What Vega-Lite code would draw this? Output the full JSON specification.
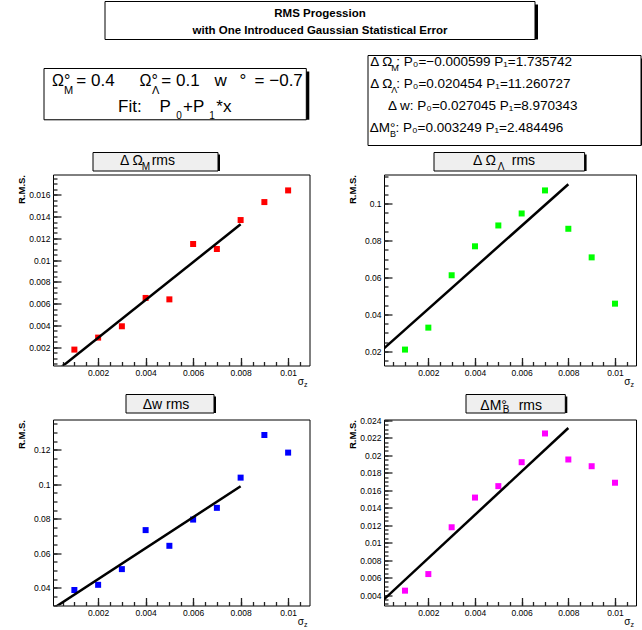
{
  "$schema": "https://vega.github.io/schema/vega-lite/v6.json",
  "padding": {"left": 10, "top": 0.5, "right": 0, "bottom": 0},
  "background": "white",
  "datasets": {
    "om": [{"s":0.001,"v":0.00179},{"s":0.002,"v":0.00289},{"s":0.003,"v":0.00393},{"s":0.004,"v":0.00653},{"s":0.005,"v":0.0064},{"s":0.006,"v":0.01148},{"s":0.007,"v":0.01102},{"s":0.008,"v":0.01368},{"s":0.009,"v":0.01533},{"s":0.01,"v":0.0164}],
    "ol": [{"s":0.001,"v":0.0209},{"s":0.002,"v":0.0328},{"s":0.003,"v":0.0612},{"s":0.004,"v":0.0769},{"s":0.005,"v":0.0882},{"s":0.006,"v":0.0947},{"s":0.007,"v":0.1072},{"s":0.008,"v":0.0864},{"s":0.009,"v":0.0709},{"s":0.01,"v":0.0458}],
    "dw": [{"s":0.001,"v":0.0387},{"s":0.002,"v":0.0417},{"s":0.003,"v":0.0508},{"s":0.004,"v":0.0734},{"s":0.005,"v":0.0643},{"s":0.006,"v":0.0795},{"s":0.007,"v":0.0863},{"s":0.008,"v":0.1038},{"s":0.009,"v":0.1285},{"s":0.01,"v":0.1183}],
    "mb": [{"s":0.001,"v":0.0045},{"s":0.002,"v":0.0064},{"s":0.003,"v":0.01176},{"s":0.004,"v":0.01516},{"s":0.005,"v":0.01647},{"s":0.006,"v":0.01921},{"s":0.007,"v":0.0225},{"s":0.008,"v":0.01952},{"s":0.009,"v":0.01875},{"s":0.01,"v":0.01686}],
    "fom": [{"s":0,"v":-0.000599},{"s":0.008,"v":0.013287}],
    "fol": [{"s":0,"v":0.020454},{"s":0.008,"v":0.11054}],
    "fdw": [{"s":0,"v":0.027045},{"s":0.008,"v":0.098808}],
    "fmb": [{"s":0,"v":0.003249},{"s":0.008,"v":0.023125}]
  },
  "config": {
    "view": {"stroke": null},
    "font": "Liberation Sans",
    "axis": {"labelFont": "Liberation Sans", "titleFont": "Liberation Sans", "labelColor": "black", "titleColor": "black", "ticks": true, "tickColor": "#222222", "tickWidth": 1.3, "tickOpacity": 1, "domain": false, "grid": false, "labelFontSize": 8.5, "labelOverlap": false, "labelFlush": false, "labelBound": false, "zindex": 1},
    "text": {"font": "Liberation Sans", "color": "black"}
  },
  "spacing": 0,
  "vconcat": [
    {"hconcat": [
      {"width": 95, "height": 52.5, "data": {"values": []}, "mark": "point"},
      {"width": 430, "height": 38, "data": {"values": [{}]}, "layer": [
        {"mark": {"type": "rect", "fill": "black", "xOffset": 3, "yOffset": 3}},
        {"mark": {"type": "rect", "fill": "white", "stroke": "black", "strokeWidth": 1}},
        {"mark": {"type": "text", "text": ["RMS Progession", "with One Introduced Gaussian Statistical Error"], "fontSize": 11.5, "fontWeight": "bold", "align": "center", "baseline": "alphabetic", "lineHeight": 17, "dy": -3.7}}
      ]}
    ], "spacing": 0, "bounds": "flush"},

    {"hconcat": [
      {"width": 32.2, "height": 96, "data": {"values": []}, "mark": "point"},
      {"vconcat": [
        {"width": 1, "height": 11.7, "data": {"values": []}, "mark": "point"},
        {"width": 262.3, "height": 51.3, "data": {"values": [{}]}, "layer": [
          {"mark": {"type": "rect", "fill": "black", "xOffset": 3, "yOffset": 3}},
          {"mark": {"type": "rect", "fill": "white", "stroke": "black", "strokeWidth": 1}},
          {"mark": {"type": "text", "text": "Ω°", "fontSize": 16, "align": "left", "baseline": "alphabetic", "dx": -123.15, "dy": -8.05}},
          {"mark": {"type": "text", "text": "M", "fontSize": 11, "align": "left", "baseline": "alphabetic", "dx": -111.15, "dy": 0}},
          {"mark": {"type": "text", "text": "= 0.4", "fontSize": 17, "align": "left", "baseline": "alphabetic", "dx": -98.85, "dy": -8.05}},
          {"mark": {"type": "text", "text": "Ω°", "fontSize": 16, "align": "left", "baseline": "alphabetic", "dx": -35.55, "dy": -8.05}},
          {"mark": {"type": "text", "text": "Λ", "fontSize": 11, "align": "left", "baseline": "alphabetic", "dx": -23.15, "dy": 0}},
          {"mark": {"type": "text", "text": "= 0.1", "fontSize": 17, "align": "left", "baseline": "alphabetic", "dx": -13.85, "dy": -8.05}},
          {"mark": {"type": "text", "text": "w", "fontSize": 17, "align": "left", "baseline": "alphabetic", "dx": 39.45, "dy": -8.05}},
          {"mark": {"type": "text", "text": "°", "fontSize": 17, "align": "left", "baseline": "alphabetic", "dx": 64.45, "dy": -8.05}},
          {"mark": {"type": "text", "text": "= −0.7", "fontSize": 17, "align": "left", "baseline": "alphabetic", "dx": 79.45, "dy": -8.05}},
          {"mark": {"type": "text", "text": "Fit:", "fontSize": 17, "align": "left", "baseline": "alphabetic", "dx": -57.15, "dy": 17.65}},
          {"mark": {"type": "text", "text": "P", "fontSize": 17, "align": "left", "baseline": "alphabetic", "dx": -15.55, "dy": 17.65}},
          {"mark": {"type": "text", "text": "0", "fontSize": 10, "align": "left", "baseline": "alphabetic", "dx": 1.15, "dy": 25.15}},
          {"mark": {"type": "text", "text": "+P", "fontSize": 17, "align": "left", "baseline": "alphabetic", "dx": 7.85, "dy": 17.65}},
          {"mark": {"type": "text", "text": "1", "fontSize": 10, "align": "left", "baseline": "alphabetic", "dx": 34.15, "dy": 25.15}},
          {"mark": {"type": "text", "text": "*x", "fontSize": 17, "align": "left", "baseline": "alphabetic", "dx": 41.15, "dy": 17.65}}
        ]}
      ], "spacing": 0},
      {"width": 56.5, "height": 1, "data": {"values": []}, "mark": "point"},
      {"width": 273, "height": 90, "data": {"values": [{}]}, "layer": [
        {"mark": {"type": "rect", "fill": "black", "xOffset": 3, "yOffset": 3}},
        {"mark": {"type": "rect", "fill": "white", "stroke": "black", "strokeWidth": 1}},
        {"mark": {"type": "text", "text": "Δ Ω", "fontSize": 13.5, "align": "left", "baseline": "alphabetic", "dx": -134.2, "dy": -34.3}},
        {"mark": {"type": "text", "text": "M", "fontSize": 9, "align": "left", "baseline": "alphabetic", "dx": -113.2, "dy": -30}},
        {"mark": {"type": "text", "text": ": P₀=−0.000599  P₁=1.735742", "fontSize": 13.5, "align": "left", "baseline": "alphabetic", "dx": -108.2, "dy": -34.3}},
        {"mark": {"type": "text", "text": "Δ Ω", "fontSize": 13.5, "align": "left", "baseline": "alphabetic", "dx": -134.2, "dy": -12.3}},
        {"mark": {"type": "text", "text": "Λ", "fontSize": 9, "align": "left", "baseline": "alphabetic", "dx": -113.2, "dy": -8}},
        {"mark": {"type": "text", "text": ": P₀=0.020454  P₁=11.260727", "fontSize": 13.5, "align": "left", "baseline": "alphabetic", "dx": -108.2, "dy": -12.3}},
        {"mark": {"type": "text", "text": "Δ w: P₀=0.027045  P₁=8.970343", "fontSize": 13.5, "align": "left", "baseline": "alphabetic", "dx": -116.5, "dy": 9.3}},
        {"mark": {"type": "text", "text": "ΔM°", "fontSize": 13.5, "align": "left", "baseline": "alphabetic", "dx": -134.8, "dy": 31.7}},
        {"mark": {"type": "text", "text": "B", "fontSize": 9, "align": "left", "baseline": "alphabetic", "dx": -114.5, "dy": 36}},
        {"mark": {"type": "text", "text": ": P₀=0.003249  P₁=2.484496", "fontSize": 13.5, "align": "left", "baseline": "alphabetic", "dx": -109, "dy": 31.7}}
      ]}
    ], "spacing": 0},

    {"hconcat": [
      {"width": 83, "height": 20.5, "data": {"values": []}, "mark": "point"},
      {"width": 125, "height": 18.5, "data": {"values": [{}]}, "layer": [
        {"mark": {"type": "rect", "fill": "black", "xOffset": 2, "yOffset": 2}},
        {"mark": {"type": "rect", "fill": "#efefef", "stroke": "black", "strokeWidth": 1}},
        {"mark": {"type": "text", "text": "Δ Ω", "fontSize": 14, "align": "left", "baseline": "alphabetic", "dx": -35.5, "dy": 2.75}},
        {"mark": {"type": "text", "text": "M", "fontSize": 10, "align": "left", "baseline": "alphabetic", "dx": -13.8, "dy": 8.05}},
        {"mark": {"type": "text", "text": "rms", "fontSize": 14, "align": "left", "baseline": "alphabetic", "dx": -3.8, "dy": 2.75}}
      ]},
      {"width": 215.7, "height": 1, "data": {"values": []}, "mark": "point"},
      {"width": 150.6, "height": 18.5, "data": {"values": [{}]}, "layer": [
        {"mark": {"type": "rect", "fill": "black", "xOffset": 2, "yOffset": 2}},
        {"mark": {"type": "rect", "fill": "#efefef", "stroke": "black", "strokeWidth": 1}},
        {"mark": {"type": "text", "text": "Δ Ω", "fontSize": 14, "align": "left", "baseline": "alphabetic", "dx": -36.3, "dy": 2.75}},
        {"mark": {"type": "text", "text": "Λ", "fontSize": 10, "align": "left", "baseline": "alphabetic", "dx": -11.5, "dy": 8.05}},
        {"mark": {"type": "text", "text": "rms", "fontSize": 14, "align": "left", "baseline": "alphabetic", "dx": 2.5, "dy": 2.75}}
      ]}
    ], "spacing": 0, "bounds": "flush"},

    {"hconcat": [
      {"width": 43, "height": 219, "data": {"values": []}, "mark": "point"},
      {"width": 256.5, "height": 191, "view": {"stroke": "black", "strokeWidth": 1},
       "resolve": {"axis": {"x": "independent", "y": "independent"}},
       "layer": [
        {"data": {"name": "om"}, "mark": {"type": "point", "shape": "square", "filled": true, "size": 36, "color": "#ff0000", "opacity": 1},
         "encoding": {
          "x": {"field": "s", "type": "quantitative", "scale": {"domain": [0.0001, 0.0109], "nice": false, "zero": false},
                "axis": {"orient": "bottom", "values": [0.002,0.004,0.006,0.008,0.01], "format": ".3~f", "tickSize": 8, "offset": -8, "labelPadding": 3, "title": "σ", "titleFontSize": 10, "titleFontWeight": "normal", "titleAlign": "right", "titleBaseline": "alphabetic", "titleX": 250.5, "titleY": 27}},
          "y": {"field": "v", "type": "quantitative", "scale": {"domain": [0.00033, 0.01786], "nice": false, "zero": false},
                "axis": {"orient": "left", "values": [0.002,0.004,0.006,0.008,0.01,0.012,0.014,0.016], "format": ".3~f", "tickSize": 8, "offset": -8, "labelPadding": 3, "title": "R.M.S.", "titleFontSize": 9.5, "titleFontWeight": "bold", "titleAngle": 270, "titleAlign": "right", "titleBaseline": "middle", "titleX": -40, "titleY": 0}}
         }},
        {"data": {"name": "fom"}, "mark": {"type": "line", "color": "black", "strokeWidth": 2.5, "clip": true},
         "encoding": {
          "x": {"field": "s", "type": "quantitative", "scale": {"domain": [0.0001, 0.0109], "nice": false, "zero": false},
                "axis": {"orient": "bottom", "values": [0.0005,0.001,0.0015,0.002,0.0025,0.003,0.0035,0.004,0.0045,0.005,0.0055,0.006,0.0065,0.007,0.0075,0.008,0.0085,0.009,0.0095,0.01,0.0105], "tickSize": 4, "offset": -4, "labels": false, "title": "z", "titleFontSize": 7, "titleFontWeight": "normal", "titleAlign": "left", "titleBaseline": "alphabetic", "titleX": 250.5, "titleY": 25}},
          "y": {"field": "v", "type": "quantitative", "scale": {"domain": [0.00033, 0.01786], "nice": false, "zero": false},
                "axis": {"orient": "left", "values": [0.0005,0.001,0.0015,0.002,0.0025,0.003,0.0035,0.004,0.0045,0.005,0.0055,0.006,0.0065,0.007,0.0075,0.008,0.0085,0.009,0.0095,0.01,0.0105,0.011,0.0115,0.012,0.0125,0.013,0.0135,0.014,0.0145,0.015,0.0155,0.016,0.0165,0.017,0.0175], "tickSize": 4, "offset": -4, "labels": false, "title": null}}
         }}
       ]},
      {"width": 74, "height": 1, "data": {"values": []}, "mark": "point"},
      {"width": 252, "height": 191, "view": {"stroke": "black", "strokeWidth": 1},
       "resolve": {"axis": {"x": "independent", "y": "independent"}},
       "layer": [
        {"data": {"name": "ol"}, "mark": {"type": "point", "shape": "square", "filled": true, "size": 36, "color": "#00ff00", "opacity": 1},
         "encoding": {
          "x": {"field": "s", "type": "quantitative", "scale": {"domain": [0.0001, 0.0109], "nice": false, "zero": false},
                "axis": {"orient": "bottom", "values": [0.002,0.004,0.006,0.008,0.01], "format": ".3~f", "tickSize": 8, "offset": -8, "labelPadding": 3, "title": "σ", "titleFontSize": 10, "titleFontWeight": "normal", "titleAlign": "right", "titleBaseline": "alphabetic", "titleX": 246, "titleY": 27}},
          "y": {"field": "v", "type": "quantitative", "scale": {"domain": [0.01227, 0.11583], "nice": false, "zero": false},
                "axis": {"orient": "left", "values": [0.02,0.04,0.06,0.08,0.1], "format": ".3~f", "tickSize": 8, "offset": -8, "labelPadding": 3, "title": "R.M.S.", "titleFontSize": 9.5, "titleFontWeight": "bold", "titleAngle": 270, "titleAlign": "right", "titleBaseline": "middle", "titleX": -40, "titleY": 0}}
         }},
        {"data": {"name": "fol"}, "mark": {"type": "line", "color": "black", "strokeWidth": 2.5, "clip": true},
         "encoding": {
          "x": {"field": "s", "type": "quantitative", "scale": {"domain": [0.0001, 0.0109], "nice": false, "zero": false},
                "axis": {"orient": "bottom", "values": [0.0005,0.001,0.0015,0.002,0.0025,0.003,0.0035,0.004,0.0045,0.005,0.0055,0.006,0.0065,0.007,0.0075,0.008,0.0085,0.009,0.0095,0.01,0.0105], "tickSize": 4, "offset": -4, "labels": false, "title": "z", "titleFontSize": 7, "titleFontWeight": "normal", "titleAlign": "left", "titleBaseline": "alphabetic", "titleX": 246, "titleY": 25}},
          "y": {"field": "v", "type": "quantitative", "scale": {"domain": [0.01227, 0.11583], "nice": false, "zero": false},
                "axis": {"orient": "left", "values": [0.015,0.02,0.025,0.03,0.035,0.04,0.045,0.05,0.055,0.06,0.065,0.07,0.075,0.08,0.085,0.09,0.095,0.1,0.105,0.11,0.115], "tickSize": 4, "offset": -4, "labels": false, "title": null}}
         }}
       ]}
    ], "spacing": 0, "bounds": "flush"},

    {"hconcat": [
      {"width": 116, "height": 20.5, "data": {"values": []}, "mark": "point"},
      {"width": 88, "height": 18.5, "data": {"values": [{}]}, "layer": [
        {"mark": {"type": "rect", "fill": "black", "xOffset": 2, "yOffset": 2}},
        {"mark": {"type": "rect", "fill": "#efefef", "stroke": "black", "strokeWidth": 1}},
        {"mark": {"type": "text", "text": "Δw rms", "fontSize": 14, "align": "center", "baseline": "alphabetic", "dx": -4, "dy": 5.45}}
      ]},
      {"width": 251.7, "height": 1, "data": {"values": []}, "mark": "point"},
      {"width": 99.3, "height": 18.5, "data": {"values": [{}]}, "layer": [
        {"mark": {"type": "rect", "fill": "black", "xOffset": 2, "yOffset": 2}},
        {"mark": {"type": "rect", "fill": "#efefef", "stroke": "black", "strokeWidth": 1}},
        {"mark": {"type": "text", "text": "ΔM°", "fontSize": 14, "align": "left", "baseline": "alphabetic", "dx": -35.35, "dy": 6.45}},
        {"mark": {"type": "text", "text": "B", "fontSize": 10, "align": "left", "baseline": "alphabetic", "dx": -13, "dy": 9}},
        {"mark": {"type": "text", "text": "rms", "fontSize": 14, "align": "left", "baseline": "alphabetic", "dx": 3, "dy": 6.45}}
      ]}
    ], "spacing": 0, "bounds": "flush"},

    {"hconcat": [
      {"width": 43, "height": 190, "data": {"values": []}, "mark": "point"},
      {"width": 256.5, "height": 186, "view": {"stroke": "black", "strokeWidth": 1},
       "resolve": {"axis": {"x": "independent", "y": "independent"}},
       "layer": [
        {"data": {"name": "dw"}, "mark": {"type": "point", "shape": "square", "filled": true, "size": 36, "color": "#0000ff", "opacity": 1},
         "encoding": {
          "x": {"field": "s", "type": "quantitative", "scale": {"domain": [0.0001, 0.0109], "nice": false, "zero": false},
                "axis": {"orient": "bottom", "values": [0.002,0.004,0.006,0.008,0.01], "format": ".3~f", "tickSize": 8, "offset": -8, "labelPadding": 3, "title": "σ", "titleFontSize": 10, "titleFontWeight": "normal", "titleAlign": "right", "titleBaseline": "alphabetic", "titleX": 250.5, "titleY": 27}},
          "y": {"field": "v", "type": "quantitative", "scale": {"domain": [0.02972, 0.13748], "nice": false, "zero": false},
                "axis": {"orient": "left", "values": [0.04,0.06,0.08,0.1,0.12], "format": ".3~f", "tickSize": 8, "offset": -8, "labelPadding": 3, "title": "R.M.S.", "titleFontSize": 9.5, "titleFontWeight": "bold", "titleAngle": 270, "titleAlign": "right", "titleBaseline": "middle", "titleX": -40, "titleY": 0}}
         }},
        {"data": {"name": "fdw"}, "mark": {"type": "line", "color": "black", "strokeWidth": 2.5, "clip": true},
         "encoding": {
          "x": {"field": "s", "type": "quantitative", "scale": {"domain": [0.0001, 0.0109], "nice": false, "zero": false},
                "axis": {"orient": "bottom", "values": [0.0005,0.001,0.0015,0.002,0.0025,0.003,0.0035,0.004,0.0045,0.005,0.0055,0.006,0.0065,0.007,0.0075,0.008,0.0085,0.009,0.0095,0.01,0.0105], "tickSize": 4, "offset": -4, "labels": false, "title": "z", "titleFontSize": 7, "titleFontWeight": "normal", "titleAlign": "left", "titleBaseline": "alphabetic", "titleX": 250.5, "titleY": 25}},
          "y": {"field": "v", "type": "quantitative", "scale": {"domain": [0.02972, 0.13748], "nice": false, "zero": false},
                "axis": {"orient": "left", "values": [0.03,0.035,0.04,0.045,0.05,0.055,0.06,0.065,0.07,0.075,0.08,0.085,0.09,0.095,0.1,0.105,0.11,0.115,0.12,0.125,0.13,0.135], "tickSize": 4, "offset": -4, "labels": false, "title": null}}
         }}
       ]},
      {"width": 74, "height": 1, "data": {"values": []}, "mark": "point"},
      {"width": 252, "height": 186, "view": {"stroke": "black", "strokeWidth": 1},
       "resolve": {"axis": {"x": "independent", "y": "independent"}},
       "layer": [
        {"data": {"name": "mb"}, "mark": {"type": "point", "shape": "square", "filled": true, "size": 36, "color": "#ff00ff", "opacity": 1},
         "encoding": {
          "x": {"field": "s", "type": "quantitative", "scale": {"domain": [0.0001, 0.0109], "nice": false, "zero": false},
                "axis": {"orient": "bottom", "values": [0.002,0.004,0.006,0.008,0.01], "format": ".3~f", "tickSize": 8, "offset": -8, "labelPadding": 3, "title": "σ", "titleFontSize": 10, "titleFontWeight": "normal", "titleAlign": "right", "titleBaseline": "alphabetic", "titleX": 246, "titleY": 27}},
          "y": {"field": "v", "type": "quantitative", "scale": {"domain": [0.0028, 0.0241], "nice": false, "zero": false},
                "axis": {"orient": "left", "values": [0.004,0.006,0.008,0.01,0.012,0.014,0.016,0.018,0.02,0.022,0.024], "format": ".3~f", "tickSize": 8, "offset": -8, "labelPadding": 3, "title": "R.M.S.", "titleFontSize": 9.5, "titleFontWeight": "bold", "titleAngle": 270, "titleAlign": "right", "titleBaseline": "middle", "titleX": -40, "titleY": 0}}
         }},
        {"data": {"name": "fmb"}, "mark": {"type": "line", "color": "black", "strokeWidth": 2.5, "clip": true},
         "encoding": {
          "x": {"field": "s", "type": "quantitative", "scale": {"domain": [0.0001, 0.0109], "nice": false, "zero": false},
                "axis": {"orient": "bottom", "values": [0.0005,0.001,0.0015,0.002,0.0025,0.003,0.0035,0.004,0.0045,0.005,0.0055,0.006,0.0065,0.007,0.0075,0.008,0.0085,0.009,0.0095,0.01,0.0105], "tickSize": 4, "offset": -4, "labels": false, "title": "z", "titleFontSize": 7, "titleFontWeight": "normal", "titleAlign": "left", "titleBaseline": "alphabetic", "titleX": 246, "titleY": 25}},
          "y": {"field": "v", "type": "quantitative", "scale": {"domain": [0.0028, 0.0241], "nice": false, "zero": false},
                "axis": {"orient": "left", "values": [0.003,0.0035,0.004,0.0045,0.005,0.0055,0.006,0.0065,0.007,0.0075,0.008,0.0085,0.009,0.0095,0.01,0.0105,0.011,0.0115,0.012,0.0125,0.013,0.0135,0.014,0.0145,0.015,0.0155,0.016,0.0165,0.017,0.0175,0.018,0.0185,0.019,0.0195,0.02,0.0205,0.021,0.0215,0.022,0.0225,0.023,0.0235,0.024], "tickSize": 4, "offset": -4, "labels": false, "title": null}}
         }}
       ]}
    ], "spacing": 0, "bounds": "flush"}
  ]
}
